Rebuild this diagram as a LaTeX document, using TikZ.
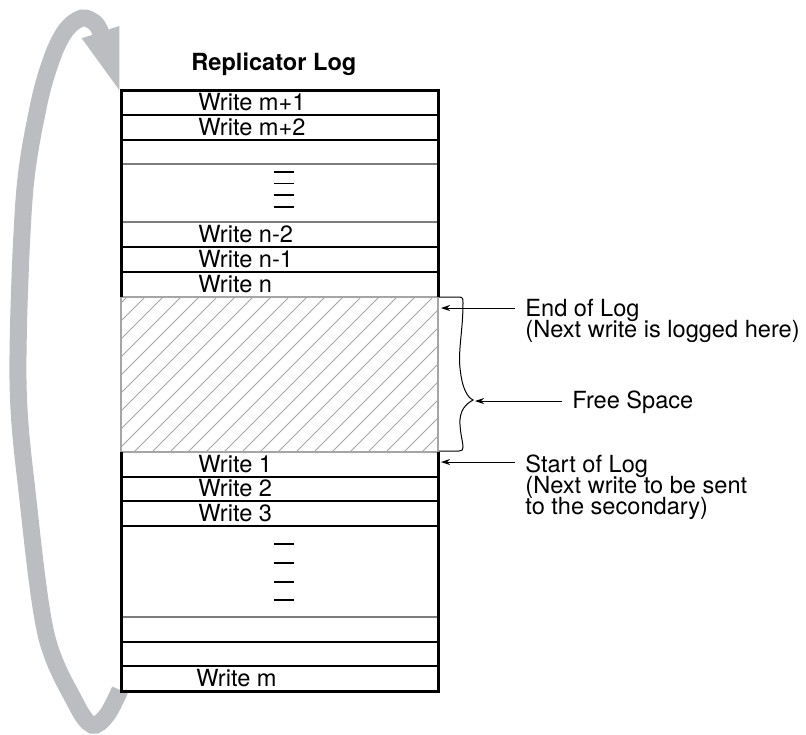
\documentclass[tikz,border=0pt]{standalone}
\usepackage{fontspec}
\setmainfont{TeX Gyre Heros}
\usetikzlibrary{arrows.meta}
\definecolor{loopgray}{RGB}{187,189,192}
\definecolor{hatchgray}{RGB}{165,165,165}
\definecolor{linegray}{RGB}{125,125,125}

\begin{document}
\begin{tikzpicture}[x=0.5pt,y=-0.5pt,
    every node/.style={font=\fontsize{11.8}{14}\selectfont, inner sep=0pt},
    title/.style={anchor=base west, font=\fontsize{11.8}{14}\selectfont\bfseries},
    entry/.style={anchor=base west},
    lbl/.style={anchor=base west, inner xsep=5pt},
    pointer/.style={-{Stealth[length=4.5pt,width=3pt]}, line width=0.5pt},
    row/.style={line width=0.85pt},
    lightrow/.style={line width=0.85pt, color=linegray},
    hatch/.style={color=hatchgray, line width=0.4pt},
    dashmark/.style={line width=0.65pt}]
    \useasboundingbox (0,0) rectangle (806,734);

    % loop arrow round the log
    \draw[loopgray, line width=8.5pt] plot[smooth, tension=0.55] coordinates
        {(120,690) (107,715) (92,725) (75,702) (46,634) (28,500) (18,380)
         (24,200) (38,108) (52,58) (66,30) (82,18) (95,23) (101,33)};
    \fill[loopgray] (81.7,38.3) -- (119.3,26) -- (119.3,90) -- cycle;

    % free space
    \begin{scope}
        \clip (121,297) rectangle (438,452);
        \foreach \x in {-28,-10,...,438}
            \draw[hatch] (\x,452) -- ++(155,-155);
    \end{scope}
    \draw[hatchgray, line width=0.8pt] (121,297) rectangle (438,452);

    % rows
    \foreach \y in {115,140,247,272,477,501,526,642,666}
        \draw[row] (121,\y) -- (438,\y);
    \foreach \y in {164,222,617}
        \draw[lightrow] (121,\y) -- (438,\y);
    \draw[line width=1.5pt] (121,297) -- (121,90) -- (438,90) -- (438,297);
    \draw[line width=1.5pt] (121,452) -- (121,691) -- (438,691) -- (438,452);

    % skipped entries
    \foreach \y in {172,183.5,195,207}
        \draw[dashmark] (274,\y) -- (294,\y);
    \foreach \y in {544,563,582,600}
        \draw[dashmark] (274,\y) -- (294,\y);

    \node[title] (head) at (191,70) {Replicator Log};
    \node[entry] (wm1) at (198,110) {Write m+1};
    \node[entry] (wm2) at (198,135) {Write m+2};
    \node[entry] (wn2) at (198,242) {Write n-2};
    \node[entry] (wn1) at (198,267) {Write n-1};
    \node[entry] (wn) at (198,292) {Write n};
    \node[entry] (w1) at (198,472) {Write 1};
    \node[entry] (w2) at (198,496) {Write 2};
    \node[entry] (w3) at (198,521) {Write 3};
    \node[entry] (wm) at (196,686) {Write m};

    % brace over the free space
    \draw[line width=0.5pt] (439,297) -- (459,297)
        .. controls (463,297) and (463,299) .. (463,303)
        .. controls (463,330) and (458,350) .. (460,368)
        .. controls (462,388) and (467,397) .. (473,400)
        .. controls (466,404) and (459,410) .. (460,425)
        .. controls (461,438) and (463,442) .. (463,447)
        .. controls (463,450) and (462,451) .. (459,451) -- (439,451);

    \coordinate (eolTip) at (441,308);
    \coordinate (fsTip) at (475,401);
    \coordinate (solTip) at (441,462);

    \node[lbl] (eol) at (515,316) {End of Log};
    \node[lbl] (eolnote) at (515,337) {(Next write is logged here)};
    \node[lbl] (fs) at (562,408) {Free Space};
    \node[lbl] (sol) at (515,472) {Start of Log};
    \node[lbl] (solnote) at (515,493) {(Next write to be sent};
    \node[lbl] (solnote2) at (515,514) {to the secondary)};

    \draw[pointer] (eol.west |- eolTip) -- (eolTip);
    \draw[pointer] (fs.west |- fsTip) -- (fsTip);
    \draw[pointer] (sol.west |- solTip) -- (solTip);
\end{tikzpicture}
\end{document}
